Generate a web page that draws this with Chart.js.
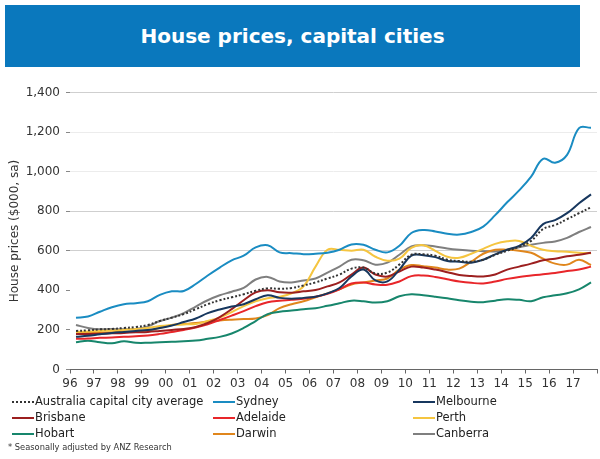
<!DOCTYPE html>
<html>
<head>
<meta charset="utf-8">
<script src="https://cdn.jsdelivr.net/npm/chart.js@4.4.1/dist/chart.umd.min.js"></script>
<style>
  body { margin: 0; background: #fff; font-family: "DejaVu Sans", Verdana, sans-serif; }
  #wrap { position: relative; width: 600px; height: 459px; overflow: hidden; }
  #houseChart { position: absolute; left: 0; top: 0; }
  #banner { position: absolute; left: 5px; top: 5px; width: 575px; height: 62px; background: #0a78bd;
            color: #fff; font-weight: bold; font-size: 20px; text-align: center; line-height: 62px; }
  .leg { position: absolute; font-size: 11.5px; color: #222; white-space: nowrap; line-height: 14px; }
  .leg i { display: inline-block; width: 22px; height: 0; border-top: 2px solid; vertical-align: middle; margin-right: 1px; }
  #note { position: absolute; left: 8px; top: 442px; font-size: 8.3px; color: #333; white-space: nowrap; }
</style>
</head>
<body>
<div id="wrap">
  <canvas id="houseChart" width="600" height="459"></canvas>
  <div id="banner">House prices, capital cities</div>
  <div id="legend"></div>
  <div id="note">* Seasonally adjusted by ANZ Research</div>
</div>
<script>
// half-yearly readings, x = year
const periods = [
  1996.25, 1996.75, 1997.25, 1997.75, 1998.25, 1998.75, 1999.25, 1999.75,
  2000.25, 2000.75, 2001.25, 2001.75, 2002.25, 2002.75, 2003.25, 2003.75,
  2004.25, 2004.75, 2005.25, 2005.75, 2006.25, 2006.75, 2007.25, 2007.75,
  2008.25, 2008.75, 2009.25, 2009.75, 2010.25, 2010.75, 2011.25, 2011.75,
  2012.25, 2012.75, 2013.25, 2013.75, 2014.25, 2014.75, 2015.25, 2015.75,
  2016.25, 2016.75, 2017.25, 2017.75,
];
const yearLabels = ["96", "97", "98", "99", "00", "01", "02", "03", "04", "05", "06",
  "07", "08", "09", "10", "11", "12", "13", "14", "15", "16", "17"];

const average = [195, 198, 203, 205, 210, 215, 225, 245, 262, 280, 305, 330, 350, 365, 380, 398,
  410, 408, 412, 425, 440, 460, 480, 510, 515, 485, 490, 530, 580, 582, 575, 555,
  548, 545, 555, 580, 600, 620, 650, 710, 730, 760, 790, 820];
const sydney = [262, 268, 292, 315, 330, 335, 345, 377, 395, 397, 432, 475, 515, 552, 575, 617,
  628, 592, 588, 583, 585, 590, 605, 632, 630, 605, 592, 625, 690, 705, 698, 686,
  682, 695, 722, 780, 845, 905, 975, 1065, 1045, 1085, 1220, 1222];
const melbourne = [165, 170, 178, 185, 190, 195, 200, 210, 222, 240, 258, 285, 303, 318, 330, 355,
  375, 362, 358, 362, 368, 385, 412, 470, 505, 450, 445, 505, 575, 578, 568, 548,
  545, 540, 555, 582, 605, 625, 665, 735, 755, 790, 840, 885];
const brisbane = [180, 180, 181, 183, 185, 188, 190, 195, 200, 205, 215, 235, 265, 305, 350, 390,
  400, 390, 388, 395, 402, 420, 440, 480, 515, 480, 470, 495, 520, 515, 505, 492,
  478, 472, 470, 480, 505, 520, 535, 552, 560, 572, 580, 590];
const adelaide = [155, 157, 160, 162, 165, 168, 172, 180, 190, 200, 212, 228, 250, 272, 295, 320,
  340, 348, 352, 358, 368, 382, 405, 435, 440, 430, 428, 445, 472, 475, 468, 456,
  445, 438, 435, 445, 458, 468, 475, 482, 488, 498, 505, 520];
const perth = [190, 192, 195, 197, 200, 205, 210, 220, 225, 228, 230, 245, 262, 290, 320, 345,
  360, 368, 385, 420, 520, 605, 605, 600, 605, 570, 550, 560, 615, 628, 600, 570,
  565, 585, 610, 635, 648, 650, 625, 605, 598, 595, 590, 588];
const hobart = [138, 145, 138, 133, 143, 135, 135, 138, 140, 143, 146, 155, 165, 182, 210, 245,
  280, 292, 298, 305, 310, 322, 335, 348, 345, 338, 345, 370, 380, 375, 368, 360,
  350, 343, 340, 348, 355, 352, 345, 365, 375, 385, 405, 440];
const darwin = [185, 185, 186, 188, 190, 192, 198, 210, 225, 230, 235, 242, 248, 252, 255, 258,
  275, 310, 330, 345, 365, 385, 405, 430, 440, 450, 460, 505, 528, 522, 515, 505,
  510, 545, 585, 605, 605, 600, 590, 560, 535, 530, 555, 528];
const canberra = [225, 210, 203, 205, 203, 205, 218, 245, 262, 285, 318, 350, 375, 393, 412, 455,
  468, 445, 440, 450, 460, 490, 520, 555, 552, 530, 540, 580, 622, 628, 622, 612,
  605, 600, 598, 597, 605, 618, 630, 640, 647, 665, 695, 720];

const series = [
  { label: "Australia capital city average", data: average, color: "#333333", dash: [2, 2] },
  { label: "Sydney", data: sydney, color: "#1a8cc2" },
  { label: "Melbourne", data: melbourne, color: "#17375e" },
  { label: "Brisbane", data: brisbane, color: "#9c1f1f" },
  { label: "Adelaide", data: adelaide, color: "#e8262a" },
  { label: "Perth", data: perth, color: "#f5c540" },
  { label: "Hobart", data: hobart, color: "#17866c" },
  { label: "Darwin", data: darwin, color: "#e0861c" },
  { label: "Canberra", data: canberra, color: "#7f7f7f" },
];

const fontFamily = "'DejaVu Sans', Verdana, sans-serif";
Chart.defaults.font.family = fontFamily;

const ctx = document.getElementById("houseChart").getContext("2d");
const houseChart = new Chart(ctx, {
  type: "line",
  data: {
    datasets: series.map((s) => ({
      label: s.label,
      data: periods.map((x, i) => ({ x: x, y: s.data[i] })),
      borderColor: s.color,
      backgroundColor: s.color,
      borderDash: s.dash || [],
      borderWidth: 2,
      fill: false,
    })),
  },
  options: {
    responsive: false,
    animation: false,
    layout: { padding: { left: 0, right: 2, top: 92.5, bottom: 67.5 } },
    elements: { point: { radius: 0 }, line: { tension: 0.4 } },
    plugins: { legend: { display: false }, tooltip: { enabled: false } },
    scales: {
      x: {
        type: "linear",
        min: 1996,
        max: 2018,
        afterFit: (scale) => { scale.height = 22; },
        ticks: {
          stepSize: 1,
          autoSkip: false,
          maxRotation: 0,
          padding: 3,
          color: "#333",
          font: { size: 12 },
          callback: (v) => yearLabels[v - 1996] || "",
        },
        grid: { drawOnChartArea: false, tickLength: 4, tickColor: "#666" },
        border: { color: "#666" },
      },
      y: {
        min: 0,
        max: 1400,
        afterFit: (scale) => { scale.width = 70; },
        ticks: {
          stepSize: 200,
          padding: 6,
          color: "#333",
          font: { size: 12 },
          callback: (v) => v.toLocaleString("en-US"),
        },
        grid: {
          color: (c) => {
            const v = c.tick && c.tick.value;
            if (v === 600 || v === 800 || v === 1400) return "#cfcfcf";
            if (v === 1000 || v === 1200) return "#ececec";
            return "rgba(0,0,0,0)";
          },
          tickColor: "#888",
          tickLength: 4,
        },
        border: { display: false },
        title: {
          display: true,
          text: "House prices ($000, sa)",
          color: "#333",
          font: { size: 12 },
          padding: { top: 8, bottom: 0 },
        },
      },
    },
  },
});

// legend laid out in three columns like the original
const legCols = [12, 213, 413];
const legRows = [401, 417, 433];
const legendBox = document.getElementById("legend");
series.forEach((s, i) => {
  const item = document.createElement("div");
  item.className = "leg";
  item.style.left = legCols[i % 3] + "px";
  item.style.top = legRows[Math.floor(i / 3)] - 7 + "px";
  const mark = document.createElement("i");
  mark.style.borderTopColor = s.color;
  if (s.dash) mark.style.borderTopStyle = "dotted";
  item.appendChild(mark);
  item.appendChild(document.createTextNode(s.label));
  legendBox.appendChild(item);
});
</script>
</body>
</html>
